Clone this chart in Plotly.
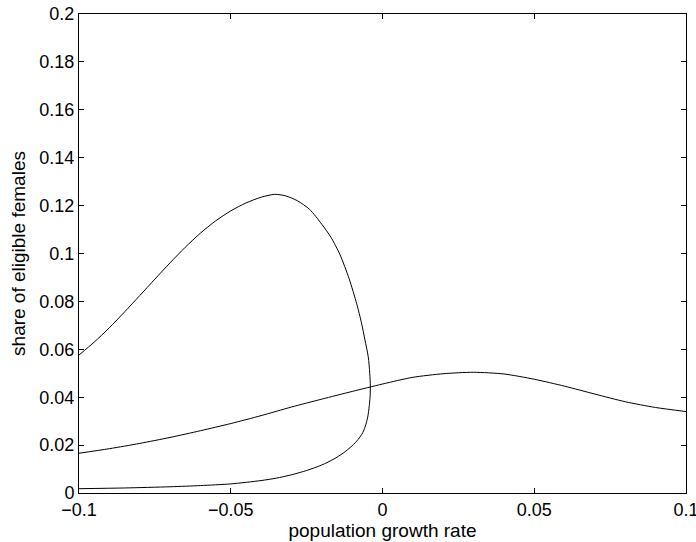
import plotly.graph_objects as go

# Curve A: folded curve (upper branch, fold near x=-0.004, lower branch back to the left)
curve_a_x = [-0.1, -0.095, -0.090, -0.085, -0.080, -0.075, -0.070, -0.065, -0.060, -0.055,
             -0.050, -0.045, -0.040, -0.0355, -0.032, -0.028, -0.024, -0.020, -0.017, -0.014,
             -0.011, -0.0085, -0.0069, -0.0058, -0.0047, -0.0042, -0.0040, -0.0041, -0.0044,
             -0.0048, -0.0055, -0.0065, -0.0080, -0.0100, -0.0130, -0.0160, -0.0200, -0.0250,
             -0.0300, -0.0350, -0.0400, -0.0500, -0.0600, -0.0700, -0.0850, -0.1]
curve_a_y = [0.0576, 0.0630, 0.0690, 0.0756, 0.0824, 0.0893, 0.0961, 0.1026, 0.1085, 0.1136,
             0.1178, 0.1211, 0.1235, 0.1247, 0.1241, 0.1220, 0.1184, 0.1122, 0.1068, 0.0995,
             0.0895, 0.0790, 0.0709, 0.0640, 0.0569, 0.0500, 0.0444, 0.0400, 0.0360,
             0.0322, 0.0285, 0.0252, 0.0224, 0.0197, 0.0166, 0.0142, 0.0117, 0.0094,
             0.0076, 0.0062, 0.0052, 0.0038, 0.0031, 0.0026, 0.0021, 0.0018]

# Curve B: single hump
curve_b_x = [-0.1, -0.09, -0.08, -0.07, -0.06, -0.05, -0.04, -0.03, -0.02, -0.01, 0.0,
             0.01, 0.02, 0.03, 0.04, 0.05, 0.06, 0.07, 0.08, 0.09, 0.1]
curve_b_y = [0.0166, 0.0185, 0.0207, 0.0232, 0.0260, 0.0290, 0.0323, 0.0359, 0.0392, 0.0424,
             0.0455, 0.0483, 0.0498, 0.0504, 0.0497, 0.0475, 0.0446, 0.0413, 0.0381, 0.0357,
             0.0340]

x_ticks = [-0.1, -0.05, 0, 0.05, 0.1]
x_tick_labels = ["\u22120.1", "\u22120.05", "0", "0.05", "0.1"]
y_ticks = [0, 0.02, 0.04, 0.06, 0.08, 0.1, 0.12, 0.14, 0.16, 0.18, 0.2]
y_tick_labels = ["0", "0.02", "0.04", "0.06", "0.08", "0.1", "0.12", "0.14", "0.16", "0.18", "0.2"]

line_style = dict(color="black", width=1, shape="spline", smoothing=0.7)
fig = go.Figure()
fig.add_trace(go.Scatter(x=curve_a_x, y=curve_a_y, mode="lines", line=line_style,
                         showlegend=False))
fig.add_trace(go.Scatter(x=curve_b_x, y=curve_b_y, mode="lines", line=line_style,
                         showlegend=False))

font_family = "Liberation Sans, Arial, Helvetica, sans-serif"
title_font = dict(family=font_family, size=19, color="black")
tick_font = dict(family=font_family, size=18, color="black")
fig.update_layout(
    width=696, height=542,
    margin=dict(l=79, r=10, t=14, b=49),
    paper_bgcolor="white", plot_bgcolor="white",
    font=dict(family=font_family, size=16, color="black"),
    xaxis=dict(range=[-0.1, 0.1], tickvals=x_ticks, ticktext=x_tick_labels,
               ticks="inside", ticklen=5, tickcolor="black", showline=True,
               linecolor="black", linewidth=1, mirror="ticks", showgrid=False,
               zeroline=False, automargin=False, ticklabeloverflow="allow",
               title=dict(text="population growth rate", standoff=2, font=title_font),
               tickfont=tick_font),
    yaxis=dict(range=[0, 0.2], tickvals=y_ticks, ticktext=y_tick_labels,
               ticks="inside", ticklen=5, tickcolor="black", showline=True,
               linecolor="black", linewidth=1, mirror="ticks", showgrid=False,
               zeroline=False, automargin=False, ticklabeloverflow="allow",
               title=dict(text="share of eligible females", standoff=8, font=title_font),
               tickfont=tick_font),
)

fig.write_html("out.html")
